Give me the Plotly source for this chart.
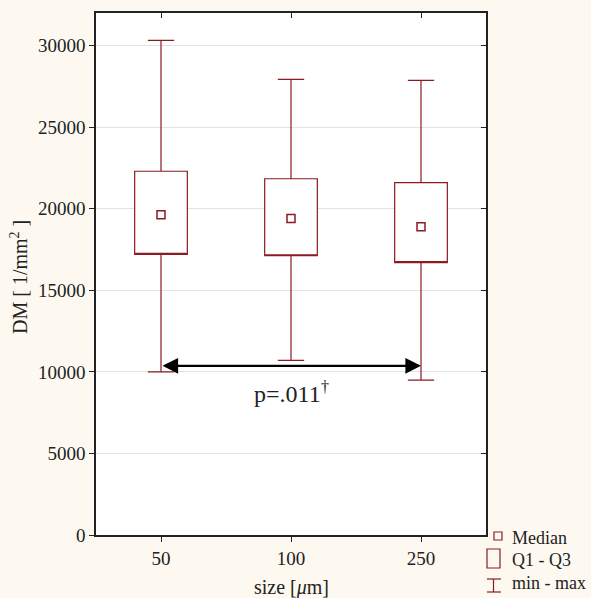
import plotly.graph_objects as go

categories = ['50', '100', '250']
q1 = [17200, 17120, 16700]
medians = [19630, 19400, 18900]
q3 = [22300, 21840, 21600]
mins = [10000, 10700, 9500]
maxs = [30320, 27930, 27870]
y_ticks = [0, 5000, 10000, 15000, 20000, 25000, 30000]
p_text = 'p=.011<sup>†</sup>'
arrow_y = 10370
p_y = 8750
x_title = 'size [<i>μ</i>m]'
y_title = 'DM [ 1/mm<sup>2</sup> ]'

RED = '#8b1a22'
BG = '#fdf9f0'
FONT = 'Liberation Serif, Times New Roman, serif'

fig = go.Figure()

# box (median line hidden on q1 edge; median drawn as square marker)
fig.add_trace(go.Box(
    x=categories, q1=q1, median=q1, q3=q3,
    lowerfence=mins, upperfence=maxs,
    width=0.405, whiskerwidth=0.5,
    line=dict(color=RED, width=1.2), fillcolor='white',
    showlegend=False, hoverinfo='skip'))
fig.add_trace(go.Scatter(
    x=categories, y=medians, mode='markers',
    marker=dict(symbol='square-open', size=8, color=RED, line=dict(width=1.5, color=RED)),
    showlegend=False, hoverinfo='skip'))
# dummy trace for mirrored inside ticks
fig.add_trace(go.Scatter(x=categories, y=[None]*3, xaxis='x2', yaxis='y2',
                         mode='lines', showlegend=False, hoverinfo='skip'))

# double headed arrow between 50 and 250
fig.add_annotation(x=2, y=arrow_y, ax=0, ay=arrow_y,
                   xref='x', yref='y', axref='x', ayref='y', text='',
                   showarrow=True, arrowhead=2, arrowside='end+start',
                   arrowsize=1.3, arrowwidth=2.4, arrowcolor='black',
                   standoff=0, startstandoff=0)
fig.add_annotation(x=1, y=p_y, xref='x', yref='y', text=p_text,
                   showarrow=False, font=dict(family=FONT, size=24, color='#222'))

W, H = 591, 598
L, R, T, B = 96, 105, 13, 63
pw, ph = W - L - R, H - T - B

def px(xp):
    return (xp - L) / pw

def py(yp):
    return (H - B - yp) / ph

# axis titles as annotations (fixed pixel placement)
fig.add_annotation(x=0.5, y=py(587), xref='paper', yref='paper', text=x_title,
                   showarrow=False, xanchor='center', yanchor='middle',
                   font=dict(family=FONT, size=20, color='#222'))
fig.add_annotation(x=px(19), y=py(277), xref='paper', yref='paper', text=y_title,
                   showarrow=False, xanchor='center', yanchor='middle', textangle=-90,
                   font=dict(family=FONT, size=20, color='#222'))

# legend (paper coordinates)
legend_items = ['Median', 'Q1 - Q3', 'min - max']
shp = dict(xref='paper', yref='paper', line=dict(color=RED, width=1.2))
fig.add_shape(type='rect', x0=px(494), x1=px(502), y0=py(540), y1=py(532), **shp)
fig.add_shape(type='rect', x0=px(487), x1=px(500), y0=py(568), y1=py(549), **shp)
fig.add_shape(type='line', x0=px(493.5), x1=px(493.5), y0=py(592), y1=py(579), **shp)
fig.add_shape(type='line', x0=px(487), x1=px(501), y0=py(579), y1=py(579), **shp)
fig.add_shape(type='line', x0=px(487), x1=px(501), y0=py(592), y1=py(592), **shp)
for txt, yy in zip(legend_items, [538, 560, 583]):
    fig.add_annotation(x=px(510), y=py(yy), xref='paper', yref='paper', text=txt,
                       xanchor='left', yanchor='middle', showarrow=False,
                       font=dict(family=FONT, size=18, color='#222'))

axis_common = dict(showline=True, linecolor='#222', linewidth=1.5,
                   tickcolor='#222', ticklen=5, tickwidth=1, automargin=False)
fig.update_layout(
    width=W, height=H,
    margin=dict(l=L, r=R, t=T, b=B),
    paper_bgcolor=BG, plot_bgcolor='white',
    font=dict(family=FONT, color='#222'),
    xaxis=dict(type='category', categoryarray=categories, range=[-0.5, 2.5],
               ticks='outside', showgrid=False, zeroline=False,
               tickfont=dict(size=19), **axis_common),
    yaxis=dict(range=[0, 32000], tickvals=y_ticks, ticktext=[str(v) for v in y_ticks],
               ticks='outside',
               showgrid=True, gridcolor='#e2e2e2', gridwidth=1, zeroline=False,
               tickfont=dict(size=19), **axis_common),
    xaxis2=dict(type='category', categoryarray=categories, range=[-0.5, 2.5],
                overlaying='x', side='top', ticks='inside', showticklabels=False,
                showgrid=False, zeroline=False, anchor='y2', **axis_common),
    yaxis2=dict(range=[0, 32000], tickvals=y_ticks, overlaying='y', side='right',
                ticks='inside', showticklabels=False, showgrid=False, zeroline=False,
                anchor='x2', **axis_common),
)

fig.write_html('out.html', config={'displayModeBar': False},
               post_script="document.body.style.margin='0';document.body.style.overflow='hidden';")
